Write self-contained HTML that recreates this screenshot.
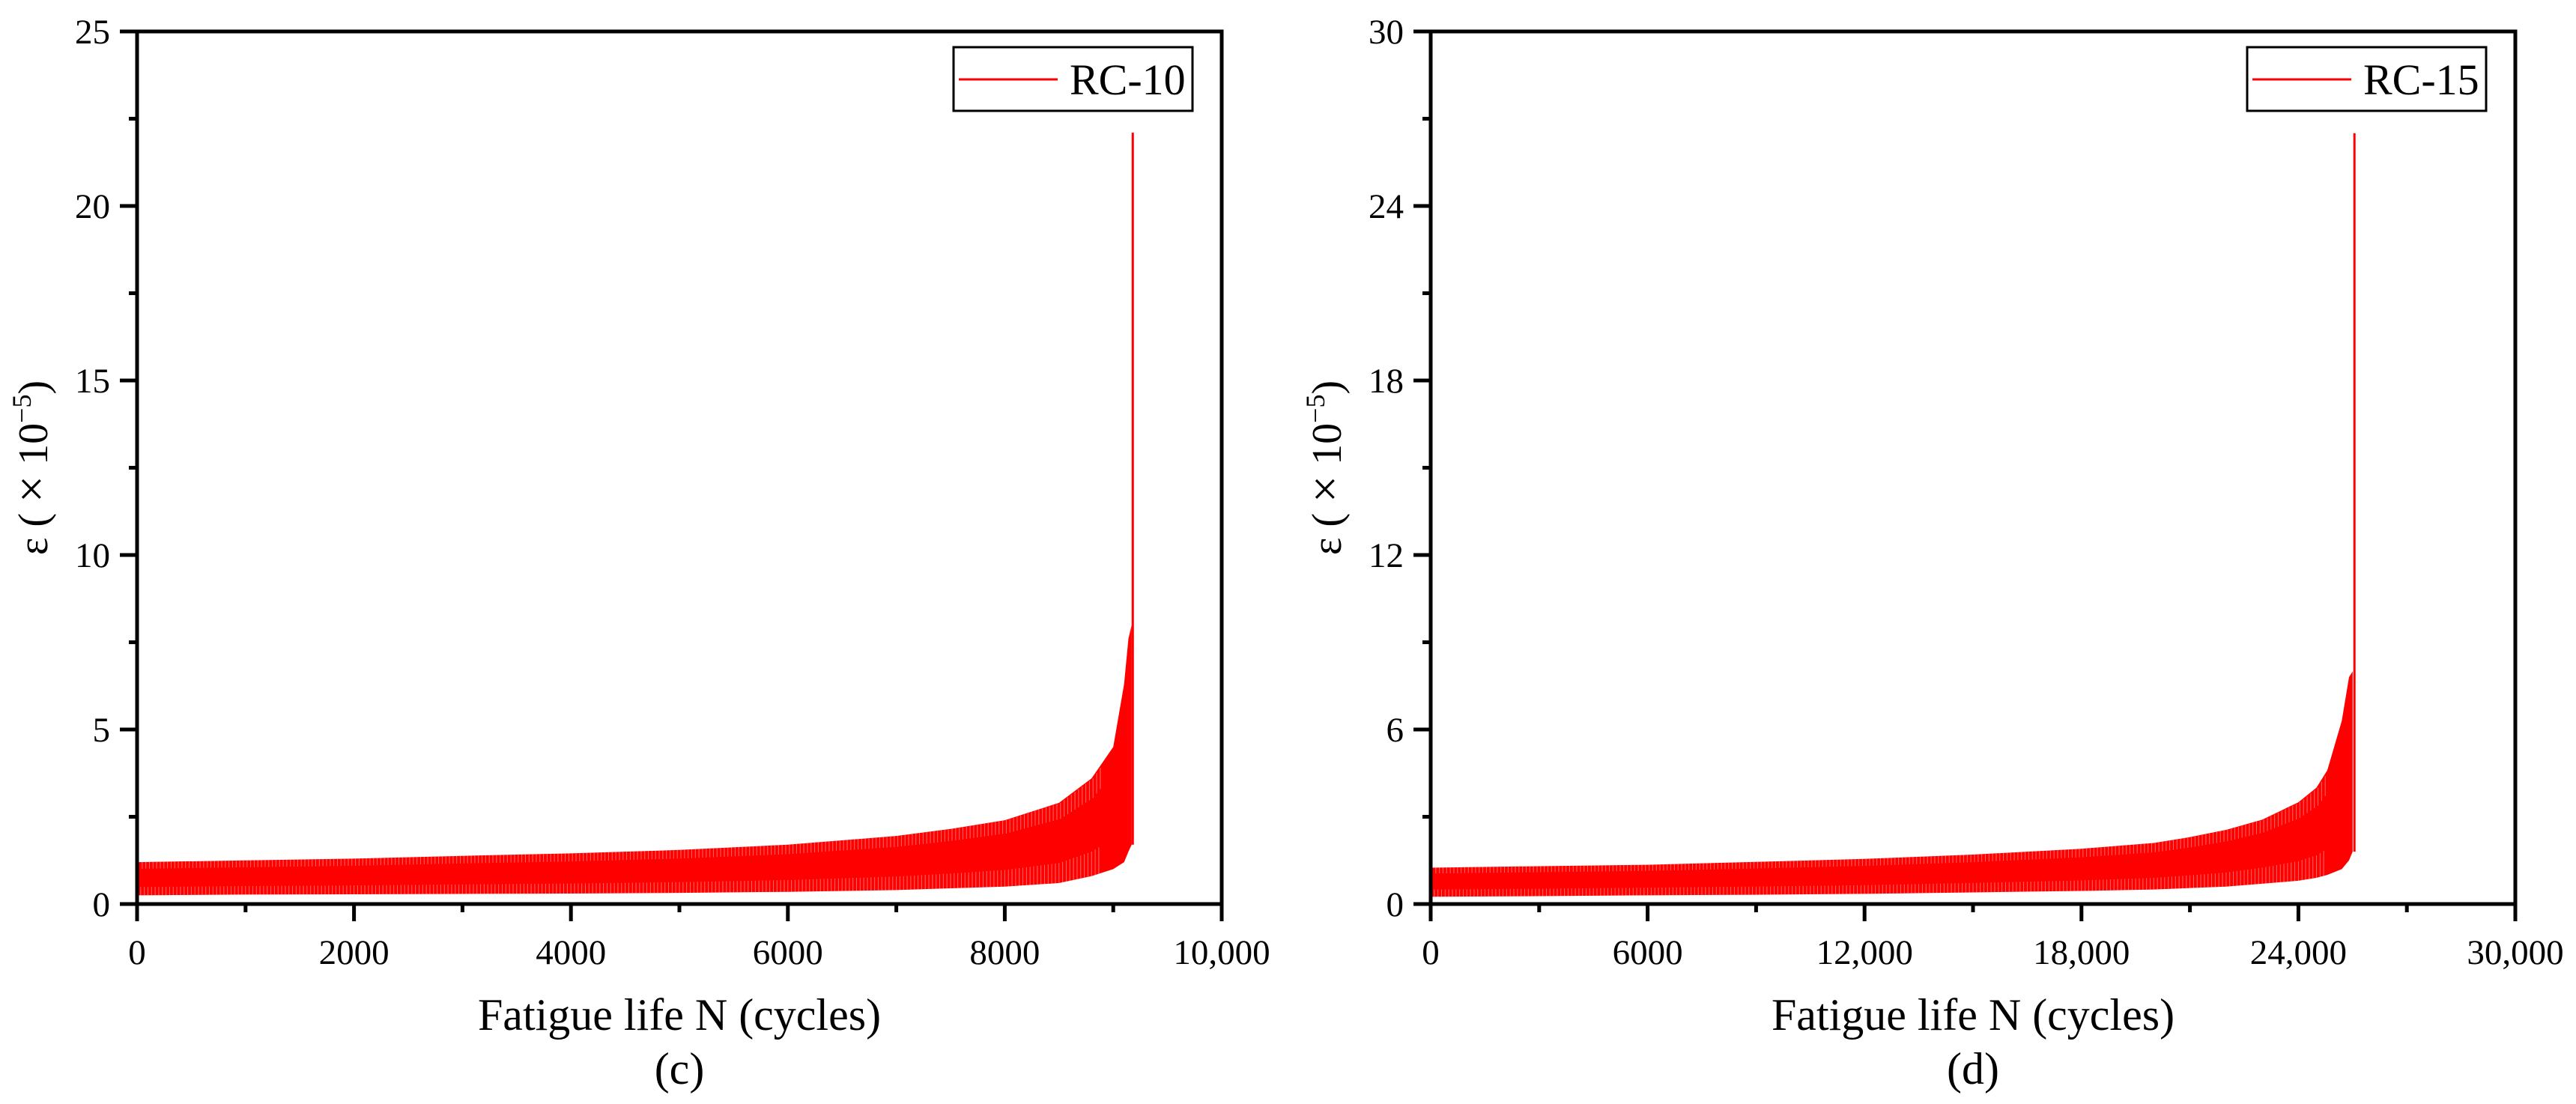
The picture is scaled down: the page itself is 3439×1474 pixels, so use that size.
<!DOCTYPE html>
<html><head><meta charset="utf-8"><style>
html,body{margin:0;padding:0;background:#fff}
svg{display:block}
text{font-family:"Liberation Serif",serif;fill:#000}
</style></head><body>
<svg id="fig" width="3439" height="1474" viewBox="0 0 3439 1474" xmlns="http://www.w3.org/2000/svg"></svg>
<script>
// Panel (c) RC-10
const cN = [0,1000,2000,3000,4000,5000,6000,7000,7500,8000,8500,8800,9000,9100,9140,9170];
const cUpper = [1.2,1.25,1.3,1.38,1.45,1.55,1.7,1.95,2.15,2.4,2.9,3.6,4.5,6.3,7.6,8.0];
const cLower = [0.25,0.27,0.28,0.29,0.3,0.32,0.35,0.4,0.45,0.5,0.6,0.8,1.0,1.2,1.5,1.7];
const cSpike = [9180, 22.1];
const cXTicks = [0,2000,4000,6000,8000,10000];
const cXLabels = ["0","2000","4000","6000","8000","10,000"];
const cYTicks = [0,5,10,15,20,25];
// Panel (d) RC-15
const dN = [0,3000,6000,9000,12000,15000,18000,20000,21000,22000,23000,24000,24500,24800,25200,25400,25500];
const dUpper = [1.25,1.3,1.35,1.45,1.55,1.7,1.9,2.1,2.3,2.55,2.9,3.5,4.0,4.6,6.3,7.8,8.0];
const dLower = [0.25,0.27,0.3,0.32,0.35,0.4,0.45,0.5,0.55,0.6,0.7,0.8,0.9,1.0,1.2,1.5,1.8];
const dSpike = [25550, 26.5];
const dXTicks = [0,6000,12000,18000,24000,30000];
const dXLabels = ["0","6000","12,000","18,000","24,000","30,000"];
const dYTicks = [0,6,12,18,24,30];

const NS="http://www.w3.org/2000/svg";
const svg=document.getElementById('fig');
function mk(tag,attrs,parent){const e=document.createElementNS(NS,tag);for(const k in attrs)e.setAttribute(k,attrs[k]);(parent||svg).appendChild(e);return e;}

function panel(opt){
  const L=opt.left,R=opt.left+1448,T=42,B=1207;
  const g=mk('g',{});
  
  
  const xs=v=>L+(v-opt.xmin)/(opt.xmax-opt.xmin)*(R-L);
  const ys=v=>B-(v-opt.ymin)/(opt.ymax-opt.ymin)*(B-T);
  let pts=[];
  for(let i=0;i<opt.N.length;i++)pts.push(xs(opt.N[i])+','+ys(opt.U[i]));
  for(let i=opt.N.length-1;i>=0;i--)pts.push(xs(opt.N[i])+','+ys(opt.Lo[i]));
  const band=mk('polygon',{points:pts.join(' '),fill:'#ff0000'},g);
  
  
  const tg=mk('g',{stroke:'#ffb0b0','stroke-width':1,opacity:0.6},g);
  
  
  const last=opt.N[opt.N.length-1];
  for(let n=opt.xmax/300;n<last*0.97;n+=opt.xmax/300){
    let i=0;while(i<opt.N.length-2&&opt.N[i+1]<n)i++;
    const f=(n-opt.N[i])/(opt.N[i+1]-opt.N[i]);
    const u=opt.U[i]+f*(opt.U[i+1]-opt.U[i]);const lo=opt.Lo[i]+f*(opt.Lo[i+1]-opt.Lo[i]);
    const a=lo+(u-lo)*0.25;
    mk('line',{x1:xs(n),x2:xs(n),y1:ys(lo),y2:ys(a)},tg);
    mk('line',{x1:xs(n)+2,x2:xs(n)+2,y1:ys(u-(u-lo)*0.2),y2:ys(u)},tg);
  }
  const sp=mk('line',{x1:xs(opt.spike[0]),x2:xs(opt.spike[0]),y1:ys(opt.Lo[opt.Lo.length-1]),y2:ys(opt.spike[1]),stroke:'#ff0000','stroke-width':3},g);
  
  
  mk('line',{x1:xs(0),x2:xs(0),y1:ys(0),y2:ys(1.0),stroke:'#ff0000','stroke-width':3},g);
  const fr=mk('rect',{x:L,y:T,width:R-L,height:B-T,fill:'none',stroke:'#000','stroke-width':5},g);
  
  
  const xt=mk('g',{stroke:'#000','stroke-width':5},g);
  
  
  for(let i=0;i<opt.xt.length;i++){
    mk('line',{x1:xs(opt.xt[i]),x2:xs(opt.xt[i]),y1:B,y2:B+23},xt);
    if(i<opt.xt.length-1){const m=(opt.xt[i]+opt.xt[i+1])/2;mk('line',{x1:xs(m),x2:xs(m),y1:B,y2:B+11},xt);}
    const t=mk('text',{x:xs(opt.xt[i]),y:B+80,'text-anchor':'middle','font-size':47},g);
    t.textContent=opt.xl[i];
    
    
  }
  for(let i=0;i<opt.yt.length;i++){
    mk('line',{x1:L-23,x2:L,y1:ys(opt.yt[i]),y2:ys(opt.yt[i]),stroke:'#000','stroke-width':5},g);
    if(i<opt.yt.length-1){const m=(opt.yt[i]+opt.yt[i+1])/2;mk('line',{x1:L-11,x2:L,y1:ys(m),y2:ys(m),stroke:'#000','stroke-width':5},g);}
    const t=mk('text',{x:L-36,y:ys(opt.yt[i])+16,'text-anchor':'end','font-size':47},g);
    t.textContent=String(opt.yt[i]);
    
    
  }
  const yt=mk('text',{transform:`translate(${L-120},${(T+B)/2}) rotate(-90)`,'text-anchor':'middle','font-size':56},g);
  yt.innerHTML='ε ( <tspan font-size="64">×</tspan> 10<tspan dy="-22" font-size="36">−5</tspan><tspan dy="22">)</tspan>';
  
  
  const xtt=mk('text',{x:(L+R)/2,y:1375,'text-anchor':'middle','font-size':60},g);
  xtt.textContent='Fatigue life N (cycles)';
  
  
  const cap=mk('text',{x:(L+R)/2,y:1447,'text-anchor':'middle','font-size':60},g);
  cap.textContent=opt.cap;
  
  
  const lg=mk('g',{},g);
  
  
  mk('rect',{x:R-358,y:63,width:319,height:85,fill:'#fff',stroke:'#000','stroke-width':3},lg);
  const ll=mk('line',{x1:R-351,x2:R-219,y1:106,y2:106,stroke:'#ff0000','stroke-width':3},lg);
  
  
  const lt=mk('text',{x:R-203,y:126,'font-size':58},lg);
  lt.textContent=opt.label;
  
  
}
panel({name:'panel-c',left:183,xmin:0,xmax:10000,ymin:0,ymax:25,N:cN,U:cUpper,Lo:cLower,spike:cSpike,xt:cXTicks,xl:cXLabels,yt:cYTicks,cap:'(c)',label:'RC-10'});
panel({name:'panel-d',left:1910,xmin:0,xmax:30000,ymin:0,ymax:30,N:dN,U:dUpper,Lo:dLower,spike:dSpike,xt:dXTicks,xl:dXLabels,yt:dYTicks,cap:'(d)',label:'RC-15'});
</script>
</body></html>
